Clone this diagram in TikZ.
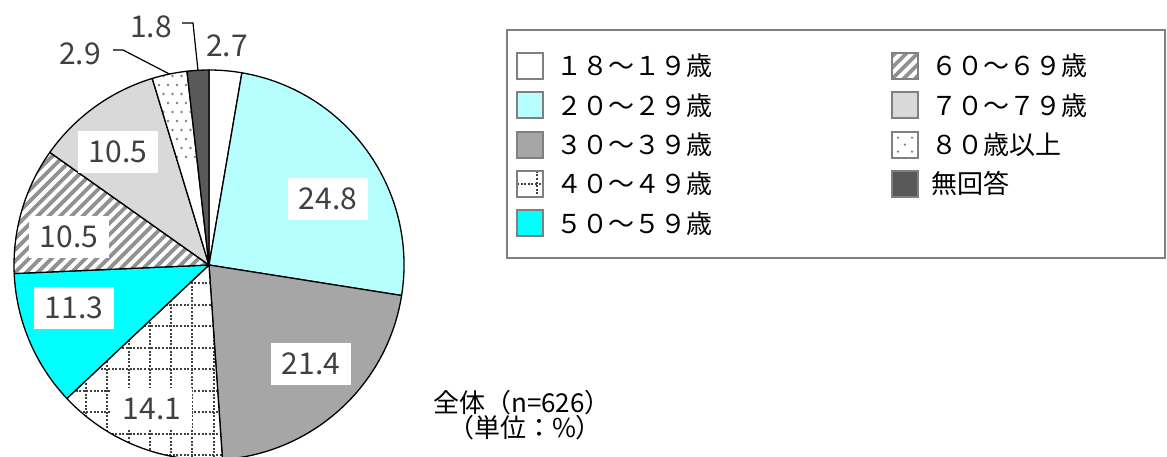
\documentclass[tikz,border=0pt]{standalone}
\usepackage{fontspec}
\setmainfont{Noto Sans CJK JP}
\usepackage{tikz}
\usetikzlibrary{positioning,calc}
\definecolor{gris}{RGB}{64,64,64}
\definecolor{bord}{RGB}{128,128,128}
\definecolor{cyanclair}{RGB}{183,255,255}
\definecolor{cyanvif}{RGB}{0,255,255}
\definecolor{grismoyen}{RGB}{166,166,166}
\definecolor{grisclair}{RGB}{217,217,217}
\definecolor{grisfonce}{RGB}{89,89,89}
\definecolor{hachure}{RGB}{145,145,145}

\begin{document}
\begin{tikzpicture}[x=1pt,y=1pt]
\tikzstyle{secteur}=[draw=black,line width=1.3pt,line join=round]
\tikzstyle{raie}=[draw=hachure,line width=3.8pt]
\tikzstyle{pointille}=[draw=gris,line width=2pt,dash pattern=on 2pt off 1.6pt]
\tikzstyle{partA}=[fill=white]
\tikzstyle{partB}=[fill=cyanclair]
\tikzstyle{partC}=[fill=grismoyen]
\tikzstyle{partD}=[fill=white,path picture={
  \foreach \k in {0,...,12} {
    \draw[pointille] ({22+21.3*\k},0) -- ({22+21.3*\k},200);
    \draw[pointille] (0,{173.5-21.5*\k}) -- (230,{173.5-21.5*\k});}}]
\tikzstyle{partE}=[fill=cyanvif]
\tikzstyle{partF}=[fill=white,path picture={
  \foreach \k in {-40,...,20} \draw[raie] ({\k*11.3},0) -- ++(460,460);}]
\tikzstyle{partG}=[fill=grisclair]
\tikzstyle{partH}=[fill=white,path picture={
  \foreach \u in {0,...,10} \foreach \v in {0,...,10}
    \fill[bord] ({150+9*\u+4.5*mod(\v,2)},{300+9*\v}) circle (1.4pt);}]
\tikzstyle{partI}=[fill=grisfonce]
\tikzstyle{legD}=[fill=white,path picture={
  \draw[pointille,line width=1.5pt] (path picture bounding box.west) -- (path picture bounding box.east);
  \draw[pointille,line width=1.5pt] ([xshift=-6pt]path picture bounding box.north east) -- ([xshift=-6pt]path picture bounding box.south east);}]
\tikzstyle{legF}=[fill=white,path picture={
  \foreach \k in {-4,...,3} \draw[raie] ($(path picture bounding box.south west)+(\k*11.3,0)$) -- ++(40,40);}]
\tikzstyle{legH}=[fill=white,path picture={
  \foreach \u/\v in {-7/7,7/7,-7/-7,7/-7,0/0}
    \fill[bord] ($(path picture bounding box.center)+(\u,\v)$) circle (1.3pt);}]
\tikzstyle{etiquette}=[fill=white,text=gris,font=\fontsize{30}{32}\selectfont,minimum width=80pt,minimum height=42pt,inner sep=0pt]
\tikzstyle{nombre}=[text=gris,font=\fontsize{30}{32}\selectfont,inner sep=1pt]
\tikzstyle{repere}=[draw=black,line width=1.2pt]
\tikzstyle{carre}=[draw=bord,line width=2pt,minimum size=26pt,inner sep=0pt]
\tikzstyle{texte}=[anchor=west,inner sep=0pt,font=\fontsize{26}{28}\selectfont]
\tikzstyle{titre}=[inner sep=0pt,font=\fontsize{26}{28}\selectfont]
\def\Rayon{195}
\def\EcartLignes{39.3}
\useasboundingbox (0,0) rectangle (1167,457);

% camembert
\coordinate (O) at (209,192);
\foreach \debut/\fin/\sty in {90/80.28/partA,80.28/-9/partB,-9/-86.04/partC,-86.04/-136.8/partD,-136.8/-177.48/partE,-177.48/-215.28/partF,-215.28/-253.08/partG,-253.08/-263.52/partH,-263.52/-270/partI}
  \draw[secteur,\sty] (O) -- ++(\debut:\Rayon) arc[start angle=\debut,end angle=\fin,radius=\Rayon] -- cycle;

% valeurs
\node[etiquette] (e248) at (328,258) {24.8};
\node[etiquette] (e214) at (311,93) {21.4};
\node[etiquette] (e141) at (152,48) {14.1};
\node[etiquette] (e113) at (74,149) {11.3};
\node[etiquette] (e105a) at (69,220) {10.5};
\node[etiquette] (e105b) at (118,305) {10.5};
\node[nombre] (n27) at (227,411) {2.7};
\node[nombre] (n29) at (80,403) {2.9};
\node[nombre] (n18) at (151,430) {1.8};
\coordinate (p18) at ($(O)+(93.24:\Rayon)$);
\coordinate (p29) at ($(O)+(101.7:\Rayon)$);
\coordinate (d18) at (182,434);
\coordinate (k18) at (193,434);
\coordinate (d29) at (113,407);
\coordinate (k29) at (123,407);
\draw[repere] (d18) -- (k18) -- (p18);
\draw[repere] (d29) -- (k29) -- (p29);

% legende
\node[draw=bord,line width=2pt,minimum width=658pt,minimum height=228pt,inner sep=0pt] (cadre) at (836,313) {};
\foreach \i/\sty/\txt in {0/partA/１８～１９歳,1/partB/２０～２９歳,2/partC/３０～３９歳,3/legD/４０～４９歳,4/partE/５０～５９歳} {
  \node[carre,\sty] (c\i) at (530,{391-\i*\EcartLignes}) {};
  \node[texte,right=12pt of c\i] (t\i) {\txt};
}
\foreach \i/\sty/\txt in {0/legF/６０～６９歳,1/partG/７０～７９歳,2/legH/８０歳以上,3/partI/無回答} {
  \node[carre,\sty] (a\i) at (905,{391-\i*\EcartLignes}) {};
  \node[texte,right=12pt of a\i] (b\i) {\txt};
}

% effectif
\node[titre] (total) at (522,54) {全体（n=626）};
\node[titre] (unite) at (525,29) {（単位：\%）};
\end{tikzpicture}
\end{document}
